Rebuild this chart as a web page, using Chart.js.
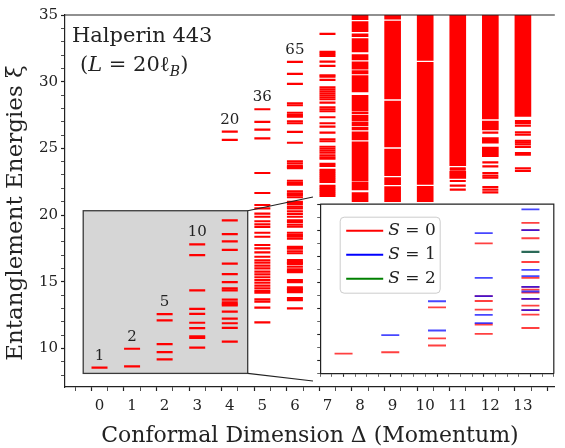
<!DOCTYPE html>
<html lang="en">
<head>
<meta charset="UTF-8">
<title>Halperin 443 entanglement spectrum</title>
<script src="https://cdn.jsdelivr.net/npm/chart.js"></script>
<style>
    body { margin: 0; background: #ffffff; }
    #wrap { position: relative; width: 565px; height: 448px; }
    #mainChart { position: absolute; left: 0; top: 0; }
    #insetBox { position: absolute; left: 309px; top: 193px; width: 256px; height: 192px; }
</style>
</head>
<body>
<div id="wrap">
    <canvas id="mainChart" width="565" height="448"></canvas>
    <div id="insetBox"><canvas id="insetChart" width="256" height="192"></canvas></div>
</div>
<script>
    // entanglement levels per momentum sector
    const lvl0 = [8.55];
    const lvl1 = [9.97, 8.65];
    const lvl2 = [12.56, 12.09, 10.32, 9.71, 9.17];
    const lvl3 = [17.79, 16.99, 14.35, 12.96, 12.58, 11.92, 11.52, 10.89, 10.78, 10.06];
    const lvl4 = [26.25, 25.63, 19.6, 18.57, 18.02, 17.39, 16.35, 15.57, 14.96, 14.49, 14.35, 13.66, 13.45,
                  13.31, 13.22, 12.75, 12.23, 11.88, 11.54, 10.51];
    const lvl5 = [27.93, 26.98, 26.4, 25.75, 23.15, 21.65, 20.75, 20.5, 20.1, 19.87, 19.53, 19.3, 19.1, 18.67,
                  18.37, 17.75, 17.5, 17.2, 16.87, 16.6, 16.42, 16.2, 16.0, 15.75, 15.55, 15.33, 15.12, 14.92,
                  14.7, 14.5, 14.3, 14.17, 13.67, 13.5, 13.05, 11.95];
    const lvl6 = [31.48, 30.58, 29.83, 28.38, 28.23, 27.67, 27.52, 27.45, 27.37, 27.03, 26.88, 26.23, 25.42,
                  24.03, 23.88, 23.7, 23.6, 23.52, 22.57, 22.42, 22.35, 22.27, 21.78, 21.63, 21.55, 21.48, 21.33,
                  20.98, 20.83, 20.63, 20.5, 20.28, 20.08, 19.87, 19.6, 19.47, 19.27, 19.12, 18.67, 18.52, 18.45,
                  18.37, 18.22, 17.62, 17.55, 17.47, 17.28, 17.13, 16.62, 16.47, 16.4, 16.32, 16.12, 15.92, 15.82,
                  15.72, 15.12, 14.97, 14.57, 14.45, 14.37, 14.22, 13.77, 13.62, 13.0];
    const lvl7 = [33.58, 32.23, 32.08, 31.93, 31.5, 31.18, 30.48, 30.38, 30.13, 29.58, 29.43, 29.28, 29.13,
                  28.98, 28.83, 28.68, 28.43, 28.08, 27.93, 27.78, 27.33, 26.88, 26.63, 26.18, 25.68, 25.53,
                  25.12, 24.97, 24.82, 24.67, 24.48, 24.33, 24.22, 23.83, 23.68, 23.38, 23.23, 23.08, 22.93,
                  22.78, 22.63, 22.48, 22.18, 22.03, 21.88, 21.73, 21.58, 21.43];
    const lvl11 = [23.5, 23.4, 22.55, 22.2, 21.9];
    const lvl12 = [26.18, 23.95, 23.65, 23.15, 22.95, 22.8, 22.1, 21.9, 21.7];
    const lvl13 = [27.05, 26.9, 26.7, 26.2, 26.02, 25.57, 25.45, 25.3, 25.1, 24.65, 24.52, 23.5, 23.3];

    // dense parts of the spectrum: [low, high] energy bands
    const band8 = [[34.65, 35], [33.75, 34.5], [33.38, 33.58], [32.23, 33.23], [31.63, 32.03], [30.93, 31.48],
                   [30.58, 30.83], [29.23, 30.45], [27.83, 28.98], [27.58, 27.73], [27.08, 27.48], [26.68, 26.98],
                   [26.38, 26.58], [25.63, 26.23], [22.58, 25.48], [21.88, 22.48], [21.0, 21.68]];
    const band9 = [[34.68, 35], [28.7, 34.55], [25.1, 28.55], [22.95, 24.95], [22.27, 22.8], [21.0, 22.13]];
    const band10 = [[31.6, 35], [22.3, 31.45], [21.0, 22.15]];
    const band11 = [[23.7, 35], [22.75, 23.28]];
    const band12 = [[27.2, 35], [26.38, 27.05], [25.38, 25.8], [24.38, 25.1]];
    const band13 = [[27.4, 35]];

    const levelCounts = [1, 2, 5, 10, 20, 36, 65];

    // inset: low-lying levels by total spin, [momentum, energy]
    const insetS0 = [[0, 8.55], [1, 8.65], [2, 12.09], [2, 9.71], [2, 9.17], [3, 16.99], [3, 12.96], [3, 12.58],
                     [3, 11.92], [3, 10.78], [3, 10.06], [4, 18.57], [4, 18.02], [4, 17.39], [4, 15.57], [4, 14.35],
                     [4, 13.66], [4, 13.45], [4, 13.22], [4, 12.75], [4, 12.23], [4, 11.88], [4, 11.54], [4, 10.51]];
    const insetS1 = [[1, 9.97], [2, 12.56], [2, 10.32], [3, 17.79], [3, 14.35], [3, 12.96], [3, 11.52], [3, 10.89],
                     [4, 19.6], [4, 18.02], [4, 14.96], [4, 14.49], [4, 13.66], [4, 13.31], [4, 12.75], [4, 11.88]];
    const insetS2 = [[4, 16.35]];

    const sparse = [[0, lvl0], [1, lvl1], [2, lvl2], [3, lvl3], [4, lvl4], [5, lvl5], [6, lvl6], [7, lvl7],
                    [11, lvl11], [12, lvl12], [13, lvl13]];
    const bands = [[8, band8], [9, band9], [10, band10], [11, band11], [12, band12], [13, band13]];
    const countCols = [lvl0, lvl1, lvl2, lvl3, lvl4, lvl5, lvl6];

    const levelPoints = [];
    sparse.forEach(([d, arr]) => arr.forEach(e => levelPoints.push({ x: d, y: e })));
    const bandBars = [];
    bands.forEach(([d, arr]) => arr.forEach(b => bandBars.push({ x: d, y: b })));

    const serif = "'DejaVu Serif', serif";
    const ink = '#222222';

    // tick width: heavier on labelled ticks
    const tickW = (every, major, minor) => c => {
        const v = c && c.tick ? c.tick.value : 0;
        return Math.abs(v / every - Math.round(v / every)) < 1e-6 ? major : minor;
    };

    function runs(ctx, parts, x, y) {
        parts.forEach(([txt, font, dy]) => {
            ctx.font = font;
            ctx.fillText(txt, x, y + (dy || 0));
            x += ctx.measureText(txt).width;
        });
        return x;
    }

    const mainDecor = {
        id: 'mainDecor',
        beforeDatasetsDraw(chart) {
            const { ctx, scales: { x, y } } = chart;
            // zoom region
            const x0 = x.getPixelForValue(-0.5), x1 = x.getPixelForValue(4.55);
            const y0 = y.getPixelForValue(20.32), y1 = y.getPixelForValue(8.12);
            ctx.save();
            ctx.fillStyle = '#d6d6d6';
            ctx.strokeStyle = '#3a3a3a';
            ctx.lineWidth = 1.3;
            ctx.fillRect(x0, y0, x1 - x0, y1 - y0);
            ctx.strokeRect(x0, y0, x1 - x0, y1 - y0);
            ctx.restore();
        },
        afterDatasetsDraw(chart) {
            const { ctx, chartArea: ca, scales: { x, y } } = chart;
            ctx.save();
            // counts above the first columns
            ctx.fillStyle = ink;
            ctx.textAlign = 'center';
            ctx.textBaseline = 'middle';
            ctx.font = '15px ' + serif;
            countCols.forEach((arr, d) => {
                const top = Math.max(...arr);
                ctx.fillText(String(levelCounts[d]), x.getPixelForValue(d), y.getPixelForValue(top) - 12);
            });
            // system label
            ctx.textAlign = 'left';
            ctx.textBaseline = 'alphabetic';
            ctx.font = '21px ' + serif;
            ctx.fillText('Halperin 443', 72, 42);
            const it = 'italic 21px ' + serif, rm = '21px ' + serif;
            runs(ctx, [['(', rm], ['L', it], [' = 20', rm], ['ℓ', rm], ['B', 'italic 14px ' + serif, 5], [')', rm]], 80, 71);
            // connectors to the inset
            const xr = x.getPixelForValue(4.55);
            ctx.strokeStyle = ink;
            ctx.lineWidth = 1.2;
            ctx.beginPath();
            ctx.moveTo(xr, y.getPixelForValue(20.32));
            ctx.lineTo(313, 197);
            ctx.moveTo(xr, y.getPixelForValue(8.12));
            ctx.lineTo(313, 381);
            ctx.stroke();
            // top spine
            ctx.beginPath();
            ctx.moveTo(ca.left, ca.top);
            ctx.lineTo(ca.right, ca.top);
            ctx.stroke();
            // y axis title
            ctx.translate(16, 213);
            ctx.rotate(-Math.PI / 2);
            ctx.textAlign = 'center';
            ctx.textBaseline = 'middle';
            ctx.font = '23px ' + serif;
            ctx.fillText('Entanglement Energies ξ', 0, 0);
            ctx.restore();
        }
    };

    new Chart(document.getElementById('mainChart'), {
        type: 'scatter',
        data: {
            datasets: [
                {
                    type: 'scatter',
                    data: levelPoints,
                    pointStyle: 'line',
                    pointRadius: 8,
                    borderWidth: 2.2,
                    borderColor: 'rgb(255,0,0)',
                    backgroundColor: 'rgb(255,0,0)',
                    order: 0
                },
                {
                    type: 'bar',
                    data: bandBars,
                    backgroundColor: 'rgb(255,0,0)',
                    borderWidth: 0,
                    barThickness: 16,
                    order: 1
                }
            ]
        },
        options: {
            responsive: false,
            animation: false,
            devicePixelRatio: 1,
            layout: { padding: { top: 15, right: 0, left: 0, bottom: 0 } },
            plugins: { legend: { display: false }, tooltip: { enabled: false } },
            scales: {
                x: {
                    type: 'linear',
                    min: -0.8,
                    max: 13.72,
                    afterFit: s => { s.height = 61; },
                    grid: {
                        drawOnChartArea: false, drawTicks: true, tickLength: 4, tickColor: ink,
                        tickWidth: tickW(1, 1.2, 0.8)
                    },
                    border: { display: true, color: ink, width: 1.2 },
                    ticks: {
                        stepSize: 0.5, includeBounds: false, autoSkip: false, maxRotation: 0, padding: 6,
                        color: ink, font: { family: serif, size: 15 },
                        callback: v => Number.isInteger(v) ? String(v) : ''
                    },
                    title: {
                        display: true, text: 'Conformal Dimension Δ (Momentum)', color: ink,
                        font: { family: serif, size: 22, lineHeight: 1.1 }, padding: { top: 0, bottom: 0 }
                    }
                },
                y: {
                    type: 'linear',
                    min: 7.1,
                    max: 35,
                    afterFit: s => { s.width = 65; },
                    grid: {
                        drawOnChartArea: false, drawTicks: true, tickLength: 4, tickColor: ink,
                        tickWidth: tickW(5, 1.2, 0.8)
                    },
                    border: { display: true, color: ink, width: 1.2 },
                    ticks: {
                        stepSize: 1, includeBounds: false, autoSkip: false, padding: 3,
                        color: ink, font: { family: serif, size: 15 },
                        callback: v => v % 5 === 0 ? String(v) : ''
                    },
                    title: { display: false }
                }
            }
        },
        plugins: [mainDecor]
    });

    const insetDecor = {
        id: 'insetDecor',
        beforeDraw(chart) {
            const { ctx, chartArea: ca } = chart;
            ctx.save();
            ctx.fillStyle = '#ffffff';
            ctx.fillRect(ca.left, ca.top, ca.right - ca.left, ca.bottom - ca.top);
            ctx.restore();
        },
        afterDraw(chart) {
            const { ctx, chartArea: ca } = chart;
            ctx.save();
            ctx.strokeStyle = ink;
            ctx.lineWidth = 1.2;
            ctx.beginPath();
            ctx.moveTo(ca.left, ca.top);
            ctx.lineTo(ca.right, ca.top);
            ctx.lineTo(ca.right, ca.bottom);
            ctx.stroke();
            // legend
            const bx = ca.left + 20, by = ca.top + 13, bw = 100, bh = 76;
            ctx.fillStyle = 'rgba(255,255,255,0.8)';
            ctx.strokeStyle = '#cccccc';
            ctx.lineWidth = 1;
            ctx.beginPath();
            ctx.roundRect(bx, by, bw, bh, 4);
            ctx.fill();
            ctx.stroke();
            const entries = [['0', 'rgb(255,0,0)'], ['1', 'rgb(0,0,255)'], ['2', 'rgb(0,128,0)']];
            entries.forEach(([s, col], i) => {
                const yy = by + 13.5 + i * 24;
                ctx.strokeStyle = col;
                ctx.lineWidth = 2;
                ctx.beginPath();
                ctx.moveTo(bx + 6, yy);
                ctx.lineTo(bx + 43, yy);
                ctx.stroke();
                ctx.fillStyle = ink;
                ctx.textBaseline = 'middle';
                runs(ctx, [['S', 'italic 17px ' + serif], [' = ' + s, '17px ' + serif]], bx + 48, yy);
            });
            ctx.restore();
        }
    };

    const toPts = arr => arr.map(([d, e]) => ({ x: d, y: e }));

    new Chart(document.getElementById('insetChart'), {
        type: 'scatter',
        data: {
            datasets: [
                { label: 'S = 1', data: toPts(insetS1), pointStyle: 'line', pointRadius: 9, borderWidth: 1.8,
                  borderColor: 'rgba(0,0,255,0.72)', order: 0 },
                { label: 'S = 2', data: toPts(insetS2), pointStyle: 'line', pointRadius: 9, borderWidth: 2.2,
                  borderColor: 'rgba(20,90,70,0.9)', order: 1 },
                { label: 'S = 0', data: toPts(insetS0), pointStyle: 'line', pointRadius: 9, borderWidth: 1.8,
                  borderColor: 'rgba(255,0,0,0.75)', order: 2 }
            ]
        },
        options: {
            responsive: false,
            animation: false,
            devicePixelRatio: 1,
            layout: { padding: { top: 4, right: 4, left: 0, bottom: 0 } },
            plugins: { legend: { display: false }, tooltip: { enabled: false } },
            scales: {
                x: {
                    type: 'linear', min: -0.5, max: 4.5,
                    afterFit: s => { s.height = 4; },
                    grid: { drawOnChartArea: false, drawTicks: true, tickLength: 3, tickColor: ink,
                            tickWidth: tickW(1, 1.1, 0.7) },
                    border: { display: true, color: ink, width: 1.2 },
                    ticks: { display: false, stepSize: 0.25, includeBounds: false, autoSkip: false }
                },
                y: {
                    type: 'linear', min: 7, max: 20,
                    afterFit: s => { s.width = 4; },
                    grid: { drawOnChartArea: false, drawTicks: true, tickLength: 3, tickColor: ink,
                            tickWidth: tickW(2, 1.1, 0.7) },
                    border: { display: true, color: ink, width: 1.2 },
                    ticks: { display: false, stepSize: 1, includeBounds: false, autoSkip: false }
                }
            }
        },
        plugins: [insetDecor]
    });
</script>
</body>
</html>
